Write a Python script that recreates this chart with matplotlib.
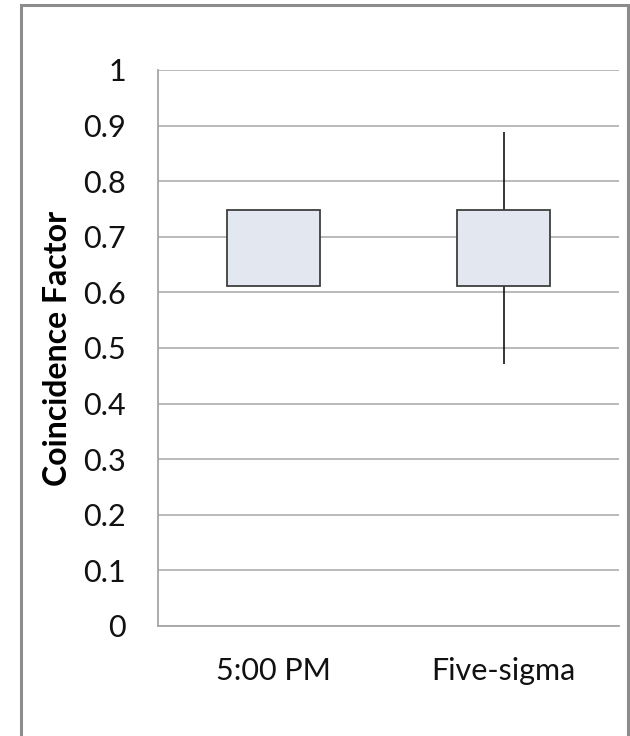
import matplotlib.pyplot as plt
import matplotlib.patches as mpatches
import numpy as np

# Box ranges (Excel-style box: q1 -> q3, whiskers min -> max)
categories = ['5:00 PM', 'Five-sigma']
box_low = [0.612, 0.612]
box_high = [0.749, 0.749]
whisker_low = [np.nan, 0.472]
whisker_high = [np.nan, 0.888]
y_ticks = [0, 0.1, 0.2, 0.3, 0.4, 0.5, 0.6, 0.7, 0.8, 0.9, 1]
y_tick_labels = ['0', '0.1', '0.2', '0.3', '0.4', '0.5', '0.6', '0.7', '0.8', '0.9', '1']

plt.rcParams['font.family'] = ['Lato', 'DejaVu Sans']

fig = plt.figure(figsize=(6.3, 7.36), dpi=100)
ax = fig.add_axes([0.2508, 0.1495, 0.7317, 0.7554])

x = np.arange(len(categories)) + 0.5
heights = np.array(box_high) - np.array(box_low)

# whiskers first so the box sits on top
for xi, lo, hi in zip(x, whisker_low, whisker_high):
    if not np.isnan(lo):
        ax.vlines(xi, lo, hi, color='black', linewidth=1.1, zorder=2)

ax.bar(x, heights, bottom=box_low, width=0.405, color='#e3e7f0',
       edgecolor='#3f3f3f', linewidth=1.3, zorder=3)

ax.set_xlim(0, 2)
ax.set_ylim(0, 1)
ax.set_xticks(x)
ax.set_xticklabels(categories, fontsize=22)
ax.set_yticks(y_ticks)
ax.set_yticklabels(y_tick_labels, fontsize=22)
ax.tick_params(axis='both', length=0, colors='#111111')
ax.tick_params(axis='y', pad=23)
ax.tick_params(axis='x', pad=22)
ax.grid(axis='y', color='#b4b4b4', linewidth=1.3, zorder=0)
ax.set_axisbelow(True)

for side in ['top', 'right']:
    ax.spines[side].set_visible(False)
for side in ['left', 'bottom']:
    ax.spines[side].set_color('#a6a6a6')
    ax.spines[side].set_linewidth(1.3)

ax.set_ylabel('Coincidence Factor', fontsize=23, fontweight='bold')
ax.yaxis.set_label_coords(-0.187, 0.5)

# chart-area border
border = mpatches.Rectangle((21 / 630, -0.02), 607 / 630, 1 - 5 / 736 + 0.02,
                            transform=fig.transFigure, fill=False,
                            edgecolor='#8c8c8c', linewidth=2.2)
fig.patches.append(border)

fig.savefig('out.png', dpi=100)
